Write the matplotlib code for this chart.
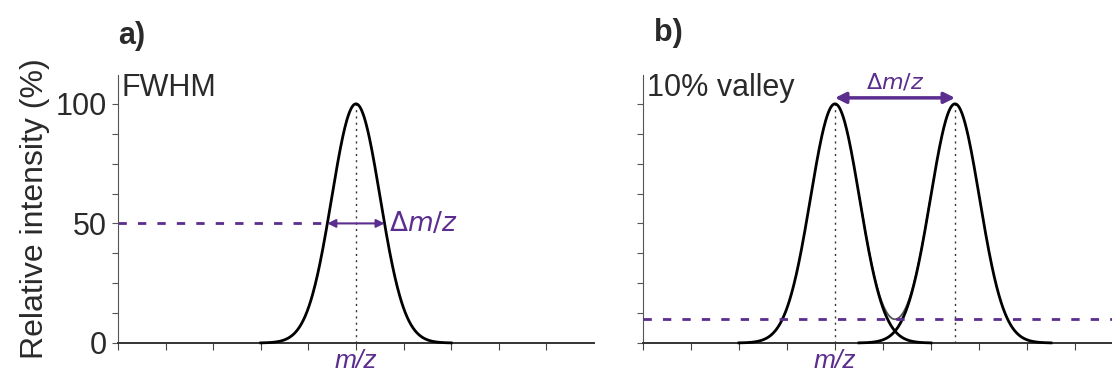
import numpy as np
import matplotlib.pyplot as plt

plt.rcParams['font.family'] = ['Liberation Sans', 'DejaVu Sans']

purple = '#5b2d8e'
ink = '#2a2a2a'

# peak parameters (x in tick units, height in %)
a_centers = [5.0]
b_centers = [4.0, 6.5]
peak_height = 100.0
peak_sigma = 0.51
peak_halfspan = 2.0
fwhm_level = 50
valley_level = 10
y_ticks = [0, 50, 100]


def peak(x, mu):
    return peak_height * np.exp(-(x - mu) ** 2 / (2 * peak_sigma ** 2))


fig = plt.figure(figsize=(11.12, 3.72), dpi=100)
ax_a = fig.add_axes([0.1061, 0.078, 0.428, 0.72])
ax_b = fig.add_axes([0.5782, 0.078, 0.4218, 0.72])

y_minor = np.arange(0, 101, 12.5)
for ax, xmax in [(ax_a, 10), (ax_b, 9.77)]:
    ax.set_xlim(0, xmax)
    ax.set_ylim(0, 112)
    for s in ['top', 'right']:
        ax.spines[s].set_visible(False)
    ax.spines['left'].set_color('#555555')
    ax.spines['left'].set_linewidth(0.8)
    ax.spines['bottom'].set_color('#333333')
    ax.spines['bottom'].set_linewidth(1.4)
    ax.set_xticks(np.arange(0, 10))
    ax.set_xticklabels([])
    ax.set_yticks(y_minor)
    ax.tick_params(axis='x', direction='out', length=5, width=0.8, color='#444444')
    ax.tick_params(axis='y', direction='out', length=4, width=0.8, color='#555555',
                   labelsize=22, labelcolor=ink, pad=4)

ax_a.set_yticklabels([f'{v:g}' if v in y_ticks else '' for v in y_minor])
ax_b.set_yticklabels([])
ax_a.set_ylabel('Relative intensity (%)', fontsize=23, color=ink, labelpad=4)

# panel a: single peak, FWHM
mu = a_centers[0]
xs = np.linspace(mu - peak_halfspan, mu + peak_halfspan, 400)
ax_a.plot(xs, peak(xs, mu), color='black', lw=2, clip_on=False, zorder=3)
ax_a.plot([mu, mu], [0, peak_height], color='#333333', lw=1, ls=(0, (1.5, 3)))
half = peak_sigma * np.sqrt(2 * np.log(peak_height / fwhm_level))
ax_a.plot([0, mu - half - 0.1], [fwhm_level, fwhm_level], color=purple,
          lw=2, ls=(0, (3, 4)))
ax_a.annotate('', xy=(mu - half, fwhm_level), xytext=(mu + half, fwhm_level),
              arrowprops=dict(arrowstyle='<|-|>', color=purple, lw=1.5,
                              mutation_scale=12, shrinkA=0, shrinkB=0))
ax_a.text(mu + half + 0.1, fwhm_level, r'$\Delta$$\it{m/z}$', color=purple,
          fontsize=19, va='center', ha='left')
ax_a.text(0.08, 106.5, 'FWHM', fontsize=22, color=ink, va='center', ha='left')
ax_a.text(mu, -2.5, 'm/z', color=purple, fontsize=19, style='italic',
          ha='center', va='top')

# panel b: two peaks at 10% valley
for mu in b_centers:
    xs = np.linspace(mu - peak_halfspan, mu + peak_halfspan, 400)
    ax_b.plot(xs, peak(xs, mu), color='black', lw=2, clip_on=False, zorder=3)
    ax_b.plot([mu, mu], [0, peak_height], color='#333333', lw=1, ls=(0, (1.5, 3)))
xv = np.linspace(b_centers[0] + 0.5, b_centers[1] - 0.5, 300)
ax_b.plot(xv, peak(xv, b_centers[0]) + peak(xv, b_centers[1]), color='#555555',
          lw=1.3, zorder=2)
ax_b.plot([0, 9.77], [valley_level, valley_level], color=purple, lw=2,
          ls=(0, (3, 4)), zorder=4)
ax_b.annotate('', xy=(b_centers[0], 102.5), xytext=(b_centers[1], 102.5),
              arrowprops=dict(arrowstyle='<|-|>', color=purple, lw=2.5,
                              mutation_scale=16, shrinkA=0, shrinkB=0),
              annotation_clip=False)
ax_b.text(sum(b_centers) / 2, 104.5, r'$\Delta$$\it{m/z}$', color=purple,
          fontsize=16, ha='center', va='bottom')
ax_b.text(0.08, 106.5, '10% valley', fontsize=22, color=ink, va='center', ha='left')
ax_b.text(b_centers[0], -2.5, 'm/z', color=purple, fontsize=19, style='italic',
          ha='center', va='top')

# panel letters
fig.text(0.106, 0.903, 'a)', fontsize=22, fontweight='bold', color=ink, va='center')
fig.text(0.588, 0.911, 'b)', fontsize=22, fontweight='bold', color=ink, va='center')

fig.savefig('out.png', dpi=100)
